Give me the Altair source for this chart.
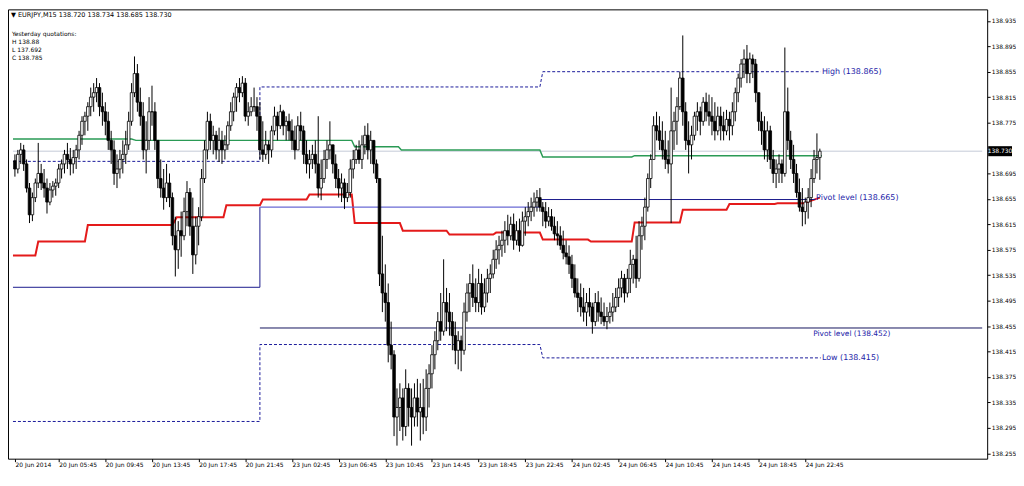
import json
import altair as alt
import pandas as pd

# ---------------- data ----------------
FIRST_OPEN = 138.715
HIGH = [
 138.725,138.732,138.743,138.740,138.717,138.680,138.665,138.687,138.743,138.710,
 138.702,138.687,138.680,138.683,138.687,138.710,138.717,138.732,138.743,138.735,
 138.732,138.740,138.762,138.785,138.792,138.807,138.830,138.837,138.845,138.837,
 138.822,138.807,138.792,138.762,138.747,138.725,138.732,138.747,138.762,138.792,
 138.837,138.879,138.867,138.830,138.807,138.777,138.815,138.833,138.807,138.747,
 138.717,138.702,138.710,138.695,138.665,138.627,138.620,138.635,138.657,138.683,
 138.672,138.657,138.627,138.642,138.702,138.747,138.792,138.789,138.770,138.762,
 138.767,138.762,138.755,138.777,138.807,138.822,138.837,138.845,138.848,138.845,
 138.807,138.815,138.830,138.815,138.807,138.777,138.762,138.747,138.770,138.800,
 138.792,138.803,138.795,138.785,138.789,138.780,138.770,138.785,138.792,138.770,
 138.747,138.732,138.740,138.747,138.785,138.717,138.732,138.747,138.777,138.740,
 138.725,138.702,138.695,138.687,138.680,138.717,138.732,138.740,138.747,138.755,
 138.770,138.774,138.762,138.747,138.717,138.687,138.597,138.552,138.522,138.462,
 138.417,138.357,138.365,138.357,138.387,138.365,138.357,138.365,138.372,138.365,
 138.372,138.387,138.395,138.425,138.447,138.477,138.507,138.560,138.515,138.507,
 138.477,138.462,138.447,138.440,138.492,138.522,138.537,138.552,138.530,138.545,
 138.537,138.530,138.545,138.552,138.575,138.590,138.597,138.605,138.620,138.630,
 138.627,138.632,138.620,138.624,138.635,138.642,138.650,138.657,138.665,138.669,
 138.672,138.650,138.650,138.642,138.639,138.627,138.620,138.612,138.605,138.590,
 138.582,138.567,138.552,138.530,138.522,138.515,138.507,138.515,138.492,138.507,
 138.510,138.500,138.492,138.485,138.492,138.507,138.515,138.530,138.542,138.537,
 138.545,138.575,138.567,138.597,138.620,138.627,138.657,138.695,138.725,138.785,
 138.792,138.785,138.777,138.762,138.747,138.830,138.792,138.815,138.855,138.912,
 138.807,138.777,138.770,138.792,138.807,138.800,138.815,138.822,138.819,138.815,
 138.807,138.800,138.800,138.792,138.795,138.792,138.807,138.830,138.852,138.875,
 138.890,138.897,138.885,138.882,138.875,138.822,138.792,138.785,138.777,138.770,
 138.732,138.717,138.725,138.717,138.893,138.830,138.762,138.740,138.710,138.687,
 138.672,138.657,138.672,138.702,138.732,138.758,138.734,
]
LOW = [
 138.690,138.695,138.710,138.699,138.665,138.617,138.620,138.650,138.672,138.669,
 138.657,138.632,138.645,138.657,138.660,138.672,138.687,138.695,138.702,138.692,
 138.695,138.702,138.717,138.740,138.755,138.762,138.785,138.792,138.807,138.785,
 138.770,138.755,138.732,138.710,138.677,138.672,138.687,138.695,138.710,138.732,
 138.770,138.815,138.792,138.770,138.717,138.695,138.732,138.770,138.732,138.672,
 138.657,138.638,138.650,138.642,138.582,138.533,138.545,138.564,138.590,138.612,
 138.597,138.537,138.552,138.582,138.620,138.680,138.717,138.732,138.725,138.717,
 138.713,138.710,138.717,138.732,138.762,138.777,138.792,138.807,138.815,138.777,
 138.770,138.785,138.792,138.762,138.717,138.713,138.717,138.710,138.720,138.755,
 138.747,138.765,138.755,138.747,138.747,138.732,138.717,138.732,138.747,138.710,
 138.695,138.687,138.702,138.695,138.657,138.653,138.680,138.702,138.717,138.695,
 138.672,138.657,138.650,138.639,138.650,138.657,138.687,138.710,138.710,138.702,
 138.725,138.717,138.710,138.695,138.680,138.518,138.477,138.462,138.398,138.387,
 138.282,138.267,138.290,138.275,138.282,138.297,138.267,138.297,138.297,138.275,
 138.285,138.290,138.327,138.357,138.387,138.417,138.432,138.440,138.447,138.440,
 138.417,138.395,138.387,138.384,138.410,138.462,138.477,138.485,138.477,138.477,
 138.473,138.477,138.492,138.507,138.530,138.545,138.552,138.564,138.570,138.582,
 138.590,138.575,138.582,138.572,138.580,138.597,138.612,138.620,138.627,138.635,
 138.635,138.612,138.609,138.612,138.605,138.590,138.582,138.575,138.560,138.552,
 138.537,138.515,138.500,138.477,138.470,138.462,138.455,138.470,138.443,138.455,
 138.462,138.458,138.455,138.450,138.459,138.462,138.477,138.485,138.500,138.492,
 138.500,138.507,138.522,138.515,138.525,138.575,138.590,138.635,138.672,138.717,
 138.747,138.732,138.717,138.702,138.695,138.617,138.732,138.740,138.795,138.770,
 138.732,138.695,138.717,138.747,138.762,138.755,138.770,138.777,138.770,138.755,
 138.747,138.755,138.747,138.747,138.755,138.747,138.755,138.777,138.807,138.830,
 138.845,138.837,138.837,138.845,138.807,138.762,138.740,138.717,138.713,138.702,
 138.680,138.672,138.680,138.680,138.690,138.732,138.702,138.680,138.657,138.635,
 138.612,138.615,138.624,138.642,138.680,138.695,138.685,
]
CLOSE = [
 138.702,138.725,138.732,138.710,138.672,138.630,138.657,138.680,138.695,138.680,
 138.672,138.650,138.669,138.675,138.680,138.702,138.710,138.725,138.717,138.710,
 138.720,138.732,138.755,138.777,138.785,138.800,138.815,138.822,138.830,138.800,
 138.792,138.777,138.747,138.732,138.695,138.702,138.717,138.725,138.740,138.777,
 138.822,138.852,138.807,138.785,138.732,138.747,138.792,138.792,138.747,138.687,
 138.672,138.657,138.680,138.657,138.597,138.575,138.605,138.597,138.635,138.665,
 138.612,138.567,138.612,138.627,138.687,138.732,138.777,138.747,138.755,138.732,
 138.747,138.732,138.740,138.770,138.792,138.815,138.830,138.822,138.837,138.785,
 138.792,138.800,138.800,138.785,138.732,138.725,138.740,138.732,138.762,138.785,
 138.770,138.792,138.770,138.777,138.762,138.747,138.732,138.770,138.762,138.725,
 138.710,138.717,138.725,138.710,138.672,138.687,138.717,138.732,138.740,138.710,
 138.687,138.672,138.680,138.657,138.665,138.702,138.717,138.732,138.717,138.740,
 138.755,138.732,138.747,138.710,138.687,138.537,138.507,138.492,138.425,138.410,
 138.312,138.327,138.342,138.297,138.357,138.327,138.312,138.342,138.320,138.327,
 138.312,138.357,138.380,138.410,138.432,138.462,138.447,138.492,138.477,138.462,
 138.440,138.417,138.432,138.417,138.477,138.507,138.522,138.500,138.492,138.522,
 138.485,138.507,138.530,138.537,138.560,138.575,138.582,138.590,138.605,138.597,
 138.615,138.590,138.605,138.582,138.620,138.627,138.635,138.642,138.650,138.657,
 138.642,138.635,138.620,138.627,138.612,138.600,138.597,138.582,138.570,138.564,
 138.552,138.530,138.507,138.500,138.485,138.477,138.492,138.485,138.462,138.492,
 138.477,138.470,138.462,138.470,138.477,138.485,138.500,138.515,138.530,138.507,
 138.530,138.552,138.560,138.530,138.597,138.612,138.642,138.687,138.717,138.770,
 138.762,138.747,138.732,138.717,138.710,138.762,138.777,138.800,138.845,138.792,
 138.747,138.740,138.755,138.785,138.792,138.777,138.807,138.792,138.785,138.777,
 138.762,138.785,138.770,138.762,138.780,138.770,138.792,138.822,138.845,138.867,
 138.875,138.852,138.875,138.867,138.822,138.777,138.762,138.732,138.762,138.717,
 138.695,138.702,138.710,138.695,138.792,138.747,138.717,138.695,138.665,138.642,
 138.635,138.650,138.657,138.687,138.717,138.720,138.730,
]

RED_IDX = [-0.667, 7, 8, 24, 25, 54, 55.5, 71.5, 72.5, 84, 85, 100, 101, 115.5, 116.5,
           132, 133, 148, 149, 164, 165, 180, 181, 196.5, 197.5, 211.5, 212.5, 228, 229,
           244, 245, 260.5, 261.5, 270.5, 276]
RED_VAL = [138.566, 138.566, 138.588, 138.588, 138.614, 138.614, 138.626, 138.626, 138.645,
           138.645, 138.654, 138.654, 138.662, 138.662, 138.617, 138.617, 138.605, 138.605,
           138.599, 138.599, 138.602, 138.602, 138.591, 138.591, 138.588, 138.588, 138.618,
           138.618, 138.638, 138.638, 138.647, 138.647, 138.648, 138.648, 138.657]
GREEN_IDX = [-0.667, 40, 41.5, 115.5, 116.5, 131.5, 132.5, 180, 181, 211.5, 212.5, 276.7]
GREEN_VAL = [138.749, 138.749, 138.747, 138.747, 138.737, 138.737, 138.732, 138.732,
             138.721, 138.721, 138.723, 138.723]
PIVOT_OLD_IDX = [-0.667, 84, 84]
PIVOT_OLD_VAL = [138.516, 138.516, 138.642]
PIVOT_MID_IDX = [84, 180]
PIVOT_MID_VAL = [138.642, 138.642]
PIVOT_NEW_IDX = [180, 180, 274.5]
PIVOT_NEW_VAL = [138.642, 138.654, 138.654]
PIVOT2_IDX = [84, 331.667]
PIVOT2_VAL = [138.452, 138.452]
LEVEL_IDX = [-0.667, 84, 84, 180, 181, 276.3]
HIGH_LVL_VAL = [138.714, 138.714, 138.831, 138.831, 138.855, 138.855]
LOW_LVL_VAL = [138.305, 138.305, 138.426, 138.426, 138.405, 138.405]
LAST_PRICE = 138.730

ANNOT_TEXT = ["High (138.865)", "Pivot level (138.665)", "Low (138.415)", "Pivot level (138.452)"]
ANNOT_IDX = [276.7, 274.7, 276.7, 273.7]
ANNOT_VAL = [138.855, 138.657, 138.405, 138.443]

HEADER = "▼ EURJPY,M15  138.720 138.734 138.685 138.730"
INFO = ["Yesterday quotations:", "H 138.88", "L 137.692", "C 138.785"]

TIME_TICKS = [0, 15, 31, 47, 63, 79, 95, 111, 127, 143, 159, 175, 191, 207, 223, 239, 255, 271]
TIME_LABELS = ["20 Jun 2014", "20 Jun 05:45", "20 Jun 09:45", "20 Jun 13:45", "20 Jun 17:45",
               "20 Jun 21:45", "23 Jun 02:45", "23 Jun 06:45", "23 Jun 10:45", "23 Jun 14:45",
               "23 Jun 18:45", "23 Jun 22:45", "24 Jun 02:45", "24 Jun 06:45", "24 Jun 10:45",
               "24 Jun 14:45", "24 Jun 18:45", "24 Jun 22:45"]
PRICE_TICKS = [138.255, 138.295, 138.335, 138.375, 138.415, 138.455, 138.495, 138.535,
               138.575, 138.615, 138.655, 138.695, 138.775, 138.815, 138.855, 138.895, 138.935]

# ---------------- chart ----------------
W, H = 985, 452
X_DOM = [-0.667, 331.667]
Y_DOM = [138.2465, 138.953]
FONT = "DejaVu Sans"

n = len(CLOSE)
assert len(HIGH) == n and len(LOW) == n
opens = [FIRST_OPEN] + CLOSE[:-1]
bars = pd.DataFrame({
    "bar": list(range(n)), "open": opens, "high": HIGH, "low": LOW, "close": CLOSE,
    "dir": ["up" if c > o else "down" for o, c in zip(opens, CLOSE)],
})

xs = alt.Scale(domain=X_DOM, nice=False, zero=False)
ys = alt.Scale(domain=Y_DOM, nice=False, zero=False)
label_expr = f"{json.dumps(TIME_LABELS)}[indexof({json.dumps(TIME_TICKS)}, datum.value)]"
x_axis = alt.Axis(values=TIME_TICKS, labelExpr=label_expr, labelAlign="left", labelFlush=False,
                  labelFontSize=6, tickSize=3, labelPadding=0, domain=False, grid=False,
                  title="", labelOverlap=False, labelColor="black", tickColor="black")
y_axis = alt.Axis(orient="right", values=PRICE_TICKS, format=".3f", labelFontSize=6,
                  tickSize=3, labelPadding=1, domain=False, grid=False, title="",
                  labelOverlap=False, labelFlush=False, labelColor="black", tickColor="black")


def X(f):
    return alt.X(f"{f}:Q", scale=xs, axis=x_axis)


def Y(f):
    return alt.Y(f"{f}:Q", scale=ys, axis=y_axis)


def line(idx, val, color, width, dash=None):
    df = pd.DataFrame({"idx": idx, "val": val, "ord": list(range(len(idx)))})
    kw = dict(color=color, strokeWidth=width)
    if dash:
        kw["strokeDash"] = dash
    return alt.Chart(df).mark_line(**kw).encode(x=X("idx"), y=Y("val"), order="ord:Q")


layers = [
    line([X_DOM[0], X_DOM[1]], [LAST_PRICE, LAST_PRICE], "#c4cad8", 1),
    line(GREEN_IDX, GREEN_VAL, "#2a9a55", 1.5),
    line(RED_IDX, RED_VAL, "#e41a1a", 2),
    line(PIVOT_OLD_IDX, PIVOT_OLD_VAL, "#1a1a8c", 1),
    line(PIVOT_MID_IDX, PIVOT_MID_VAL, "#6a6ad4", 1.2),
    line(PIVOT_NEW_IDX, PIVOT_NEW_VAL, "#1a1a8c", 1),
    line(PIVOT2_IDX, PIVOT2_VAL, "#14145e", 1),
    line(LEVEL_IDX, HIGH_LVL_VAL, "#1a1a9a", 1, [3, 2]),
    line(LEVEL_IDX, LOW_LVL_VAL, "#1a1a9a", 1, [3, 2]),
]

wicks = alt.Chart(bars).mark_rule(color="black", strokeWidth=1).encode(
    x=X("bar"), y=Y("low"), y2="high")
bodies = alt.Chart(bars).mark_bar(size=2.6, stroke="black", strokeWidth=0.8).encode(
    x=X("bar"), y=Y("open"), y2="close",
    color=alt.Color("dir:N", scale=alt.Scale(domain=["up", "down"], range=["white", "black"]),
                    legend=None))
layers += [wicks, bodies]

annot = pd.DataFrame({"idx": ANNOT_IDX, "val": ANNOT_VAL, "txt": ANNOT_TEXT})
for k, fs in zip(range(len(ANNOT_TEXT)), [8, 8, 8, 7.5]):
    layers.append(
        alt.Chart(annot.iloc[[k]]).mark_text(align="left", baseline="middle", fontSize=fs,
                                             font=FONT, color="#2323a8")
        .encode(x=X("idx"), y=Y("val"), text="txt:N"))

one = pd.DataFrame({"a": [0]})
layers.append(alt.Chart(one).mark_text(align="left", baseline="middle", fontSize=6.5, font=FONT,
                                       color="black")
              .encode(x=alt.value(3), y=alt.value(6), text=alt.value(HEADER)))
for k, ypix in zip(range(len(INFO)), [24.5, 32.8, 41.0, 49.4]):
    layers.append(alt.Chart(one).mark_text(align="left", baseline="middle", fontSize=6, font=FONT,
                                           color="black")
                  .encode(x=alt.value(4), y=alt.value(ypix), text=alt.value(INFO[k])))

last = pd.DataFrame({"val": [LAST_PRICE], "txt": [f"{LAST_PRICE:.3f}"]})
layers.append(alt.Chart(last).mark_point(shape="M-1,-0.42H1V0.42H-1Z", size=576, filled=True,
                                         color="black", opacity=1, strokeWidth=0)
              .encode(x=alt.value(W + 13), y=Y("val")))
layers.append(alt.Chart(last).mark_text(align="center", baseline="middle", fontSize=6, font=FONT,
                                        color="white")
              .encode(x=alt.value(W + 13), y=Y("val"), text="txt:N"))

chart = alt.layer(*layers).properties(
    width=W, height=H, padding={"left": 0, "top": 0, "right": 0, "bottom": 0},
    background="white",
).configure_view(stroke="black", strokeWidth=1).configure_axis(labelFont=FONT)

chart.save("out.html", embed_options={"renderer": "svg", "actions": False})
